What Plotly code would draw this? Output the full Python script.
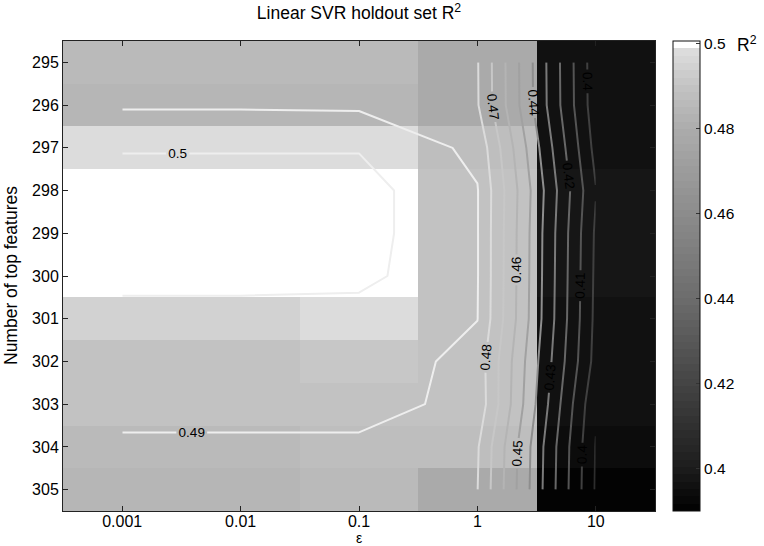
import numpy as np
import plotly.graph_objects as go

# ---------------- data ----------------
epsilon = [0.001, 0.01, 0.1, 1, 10]
eps_labels = ["0.001", "0.01", "0.1", "1", "10"]
n_features = [295, 296, 297, 298, 299, 300, 301, 302, 303, 304, 305]

# holdout R^2 shown as image cells (rows = number of top features, cols = epsilon)
r2_image = [
    [0.4863, 0.4863, 0.4863, 0.4794, 0.3961],
    [0.4838, 0.4838, 0.4838, 0.4794, 0.3961],
    [0.4985, 0.4985, 0.4985, 0.4871, 0.3961],
    [0.5100, 0.5100, 0.5100, 0.4900, 0.3975],
    [0.5100, 0.5100, 0.5100, 0.4900, 0.3975],
    [0.5100, 0.5100, 0.5100, 0.4900, 0.3975],
    [0.4941, 0.4941, 0.4986, 0.4900, 0.3968],
    [0.4900, 0.4900, 0.4907, 0.4900, 0.3968],
    [0.4892, 0.4892, 0.4896, 0.4896, 0.3964],
    [0.4858, 0.4858, 0.4867, 0.4875, 0.3950],
    [0.4842, 0.4842, 0.4850, 0.4794, 0.3895],
]

# holdout R^2 used for the contour lines
r2_contour = [
    [0.4875, 0.4875, 0.4870, 0.4806, 0.3937],
    [0.4889, 0.4889, 0.4885, 0.4808, 0.3940],
    [0.4994, 0.4994, 0.4994, 0.4875, 0.3967],
    [0.5040, 0.5040, 0.5040, 0.4905, 0.4005],
    [0.5040, 0.5040, 0.5040, 0.4905, 0.3985],
    [0.5040, 0.5040, 0.5030, 0.4905, 0.3980],
    [0.4953, 0.4953, 0.4953, 0.4902, 0.3975],
    [0.4950, 0.4950, 0.4974, 0.4860, 0.3965],
    [0.4939, 0.4939, 0.4939, 0.4869, 0.3915],
    [0.4880, 0.4880, 0.4880, 0.4810, 0.3895],
    [0.4875, 0.4875, 0.4870, 0.4802, 0.3890],
]

cbar_ticks = [0.40, 0.42, 0.44, 0.46, 0.48, 0.50]
cbar_ticktext = ["0.4", "0.42", "0.44", "0.46", "0.48", "0.5"]

# ---------------- style ----------------
ZMIN, ZMAX = 0.3901, 0.5005
N_STEPS = 64
gray_anchor_v = [0.39, 0.40, 0.42, 0.44, 0.46, 0.48, 0.49, 0.4985]
gray_anchor_g = [0, 28, 68, 108, 140, 172, 196, 222]

scale = []
for k in range(N_STEPS):
    vc = ZMIN + (k + 0.5) / N_STEPS * (ZMAX - ZMIN)
    g = 255 if k == N_STEPS - 1 else int(round(np.interp(vc, gray_anchor_v, gray_anchor_g)))
    c = f"rgb({g},{g},{g})"
    scale.append([k / N_STEPS, c])
    scale.append([(k + 1) / N_STEPS, c])

line_scale = [[0.0, "rgb(45,45,45)"], [1.0, "rgb(238,238,238)"]]

x_pos = np.log10(epsilon)
FONT = "Liberation Sans, Arial, Helvetica, sans-serif"
TICK_SIZE = 16
LABEL_SIZE = 17.5

fig = go.Figure()
fig.add_trace(go.Heatmap(
    x=x_pos, y=n_features, z=r2_image,
    colorscale=scale, zmin=ZMIN, zmax=ZMAX, zsmooth=False,
    hoverinfo="skip",
    colorbar=dict(
        x=(673 - 63) / 592, xanchor="left", xpad=0,
        y=0.5, yanchor="middle", len=1, lenmode="fraction", ypad=0,
        thickness=27, outlinewidth=1, outlinecolor="#111",
        tickvals=cbar_ticks, ticktext=cbar_ticktext,
        ticks="inside", ticklen=4, tickcolor="#333",
        tickfont=dict(size=15.5, color="black", family=FONT),
    ),
))
fig.add_trace(go.Contour(
    x=x_pos, y=n_features, z=r2_contour,
    zmin=0.39, zmax=0.50, colorscale=line_scale, showscale=False,
    contours=dict(start=0.39, end=0.5001, size=0.01, coloring="lines",
                  showlabels=True, labelformat=".2~g",
                  labelfont=dict(size=13.5, color="black", family=FONT)),
    line=dict(width=2, smoothing=0),
    hoverinfo="skip",
))

axis_common = dict(
    ticks="inside", ticklen=5, tickcolor="#222", showline=True,
    linecolor="#222", linewidth=1, mirror="ticks", showgrid=False,
    zeroline=False, tickfont=dict(size=TICK_SIZE, color="black", family=FONT),
)
fig.update_xaxes(range=[-3.5, 1.5], tickvals=x_pos, ticktext=eps_labels,
                 ticklabelstandoff=-4, **axis_common)
fig.update_yaxes(range=[305.5, 294.5], tickvals=n_features,
                 ticktext=[str(v) for v in n_features], **axis_common)

fig.update_layout(
    width=764, height=546,
    margin=dict(l=63, r=109, t=41, b=35),
    paper_bgcolor="white", plot_bgcolor="white",
    font=dict(family=FONT, size=TICK_SIZE, color="black"),
    showlegend=False,
    title=dict(text="Linear SVR holdout set R<sup>2</sup>", x=359 / 764, xanchor="center",
               y=1 - 13 / 546, yanchor="middle", font=dict(size=LABEL_SIZE, family=FONT)),
    annotations=[
        dict(text="ε", x=0.5, y=(511 - 538) / 470, xref="paper", yref="paper",
             showarrow=False, font=dict(size=14), xanchor="center", yanchor="middle"),
        dict(text="Number of top features", x=(11 - 63) / 592, y=0.5, xref="paper", yref="paper",
             textangle=-90, showarrow=False, font=dict(size=LABEL_SIZE), xanchor="center",
             yanchor="middle"),
        dict(text="R<sup>2</sup>", x=(747 - 63) / 592, y=(511 - 44) / 470, xref="paper", yref="paper",
             showarrow=False, font=dict(size=LABEL_SIZE), xanchor="center", yanchor="middle"),
    ],
)

fig.write_html("out.html")
